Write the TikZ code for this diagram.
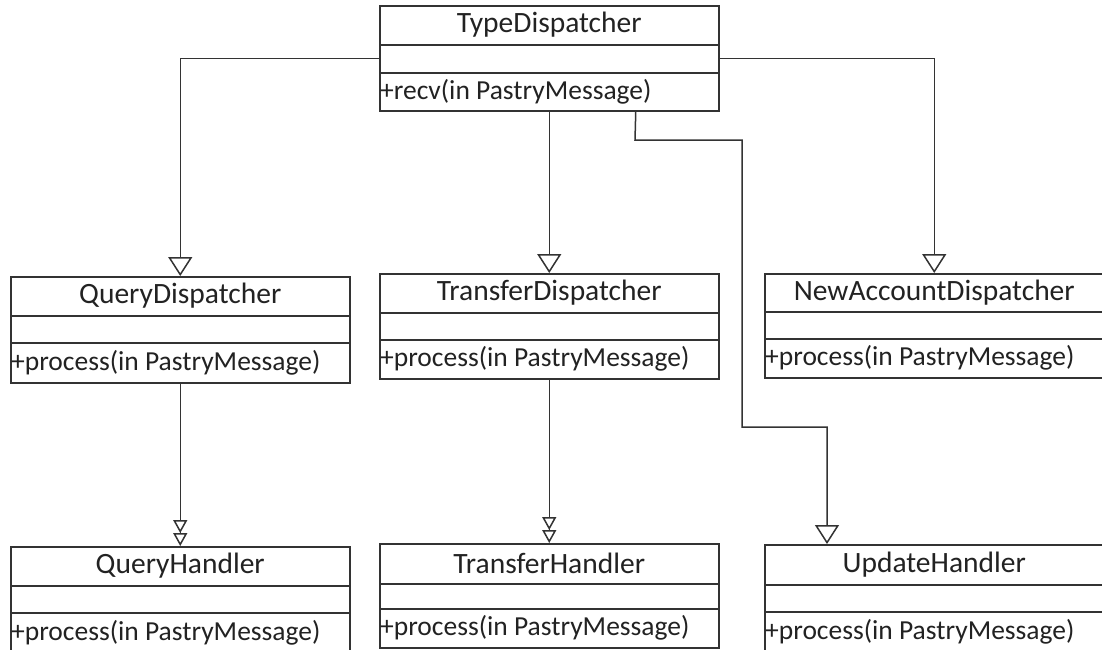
\documentclass[tikz,border=0pt]{standalone}
\usepackage{fontspec}
\setmainfont{Carlito}
\usetikzlibrary{arrows.meta,calc}

\definecolor{ink}{HTML}{333333}
\definecolor{txt}{HTML}{222222}

\tikzset{
  classbox/.style={draw=ink, line width=1.5pt, fill=white, minimum width=339pt, inner sep=0pt},
  rule/.style={draw=ink, line width=1.5pt},
  classtitle/.style={text=txt, font=\fontsize{29.5}{35}\selectfont, inner sep=0pt},
  classop/.style={text=txt, font=\fontsize{27.5}{33}\selectfont, inner sep=1pt, anchor=west},
  link/.style={draw=ink, line width=1.5pt},
  gen/.style={link, -{Triangle[open, length=19pt, width=24pt, line width=1.5pt, fill=white]}},
  dgen/.style={link, -{Triangle[open, length=13pt, width=14pt, line width=1.5pt, fill=white, sep=0pt]Triangle[open, length=13pt, width=14pt, line width=1.5pt, fill=white]}}
}

% #1 name, #2 left x, #3 top y, #4 title rule y, #5 operation rule y, #6 bottom y, #7 class name, #8 operation
\newcommand{\umlclass}[8]{%
  \pgfmathsetmacro{\boxh}{#6-#3}%
  \node[classbox, minimum height=\boxh pt, anchor=north west] (#1) at (#2,-#3) {};
  \draw[rule] (#1.west |- 0,-#4) -- (#1.east |- 0,-#4);
  \draw[rule] (#1.west |- 0,-#5) -- (#1.east |- 0,-#5);
  \node[classtitle] (#1-name) at ($(#1.north)!.5!(#1.north |- 0,-#4)$) {#7};
  \node[classop] (#1-op) at ($(#1.west |- 0,-#5)!.5!(#1.west |- 0,-#6)$) {#8};
}

\begin{document}
\begin{tikzpicture}[x=1pt, y=1pt]
  \useasboundingbox (0,0) rectangle (1102,-649);
  \clip (0,0) rectangle (1102,-649);

  % classes
  \umlclass{td}{379}{5}{45}{73}{110}{TypeDispatcher}{+recv(in PastryMessage)}
  \umlclass{qd}{10}{276}{316}{343}{382}{QueryDispatcher}{+process(in PastryMessage)}
  \umlclass{trd}{379}{273}{313}{340}{378}{TransferDispatcher}{+process(in PastryMessage)}
  \umlclass{nad}{764}{273}{312}{339}{377}{NewAccountDispatcher}{+process(in PastryMessage)}
  \umlclass{qh}{10}{546}{586}{613}{652}{QueryHandler}{+process(in PastryMessage)}
  \umlclass{trh}{379}{543}{584}{609}{647}{TransferHandler}{+process(in PastryMessage)}
  \umlclass{uh}{764}{544}{585}{612}{652}{UpdateHandler}{+process(in PastryMessage)}

  % generalisations from the type dispatcher
  \draw[gen] (td.west) -| (qd.north);
  \draw[gen] (td.south) -- (trd.north);
  \draw[gen] (td.east) -| (nad.north);
  \draw[gen] ([xshift=86.5pt]td.south) -- (635,-140) -- (742,-140)
             -- (742,-427) -- (827,-427) -- ([xshift=63pt]uh.north west);

  % dispatchers to their handlers
  \draw[dgen] (qd.south) -- (qh.north);
  \draw[dgen] (trd.south) -- (trh.north);
\end{tikzpicture}
\end{document}
